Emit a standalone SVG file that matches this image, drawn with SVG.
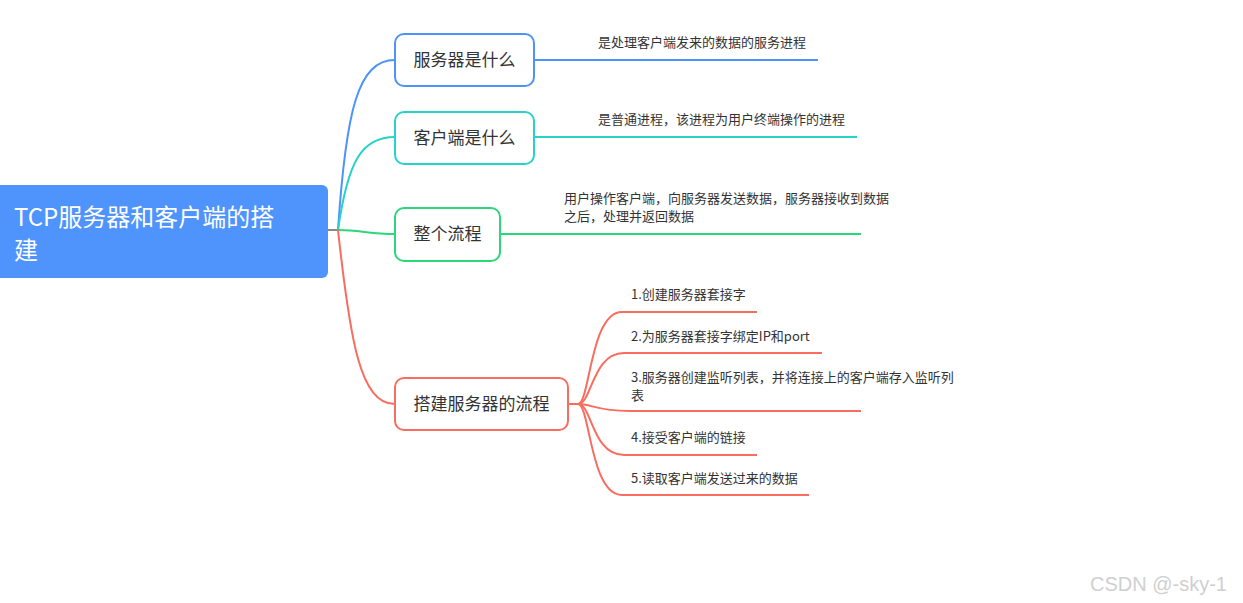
<svg xmlns="http://www.w3.org/2000/svg" width="1243" height="603" viewBox="0 0 1243 603">
<style>
.node{fill:#fff;stroke-width:2}
.nt{font-family:"Noto Sans CJK SC","Liberation Sans",sans-serif;font-size:17px;fill:#333;text-anchor:middle}
.lt{font-family:"Noto Sans CJK SC","Liberation Sans",sans-serif;font-size:13px;fill:#333}
.c{fill:none;stroke-width:2}
.b{stroke:#4d94fa}.t{stroke:#27d2cb}.g{stroke:#2cd67b}.r{stroke:#f86d5f}
</style>
<rect width="1243" height="603" fill="#fff"/>
<g id="connectors">
<path d="M328,230 H338" stroke="#888" stroke-width="2" fill="none"/>
<path class="c b" d="M338,230 C346,110 358,60 395,60"/>
<path class="c t" d="M338,230 C348,160 362,137 395,137"/>
<path class="c g" d="M338,230 C360,230 370,234 395,234"/>
<path class="c r" d="M338,230 C350,340 360,404 395,404"/>
<path class="c b" d="M534,60 H818"/>
<path class="c t" d="M534,137 H857"/>
<path class="c g" d="M500,234 H861"/>
<path class="c r" d="M568,404 H578 C590,404 590,312 622,312 H757"/>
<path class="c r" d="M578,404 C592,404 592,353 624,353 H822"/>
<path class="c r" d="M578,404 C592,404 596,411 630,411 H861"/>
<path class="c r" d="M578,404 C592,404 592,455 624,455 H757"/>
<path class="c r" d="M578,404 C590,404 590,495 622,495 H809"/>
</g>
<g id="root">
<rect x="-8" y="185" width="336" height="93" rx="6" fill="#4e94fc"/>
<text x="14" y="226" font-family="Noto Sans CJK SC,Liberation Sans,sans-serif" font-size="24" fill="#fff">TCP服务器和客户端的搭</text>
<text x="14" y="259" font-family="Noto Sans CJK SC,Liberation Sans,sans-serif" font-size="24" fill="#fff">建</text>
</g>
<g id="n1">
<rect class="node b" x="395" y="34" width="139" height="52" rx="9"/>
<text class="nt" x="464.5" y="66">服务器是什么</text>
<text class="lt" x="598" y="47">是处理客户端发来的数据的服务进程</text>
</g>
<g id="n2">
<rect class="node t" x="395" y="112" width="139" height="52" rx="9"/>
<text class="nt" x="464.5" y="144">客户端是什么</text>
<text class="lt" x="598" y="124">是普通进程，该进程为用户终端操作的进程</text>
</g>
<g id="n3">
<rect class="node g" x="395" y="208" width="105" height="53" rx="9"/>
<text class="nt" x="447.5" y="240">整个流程</text>
<text class="lt" x="564" y="203">用户操作客户端，向服务器发送数据，服务器接收到数据</text>
<text class="lt" x="564" y="221">之后，处理并返回数据</text>
</g>
<g id="n4">
<rect class="node r" x="395" y="378" width="173" height="52" rx="9"/>
<text class="nt" x="481.5" y="410">搭建服务器的流程</text>
</g>
<g id="s1"><text class="lt" x="631" y="299">1.创建服务器套接字</text></g>
<g id="s2"><text class="lt" x="631" y="341">2.为服务器套接字绑定IP和port</text></g>
<g id="s3"><text class="lt" x="631" y="382">3.服务器创建监听列表，并将连接上的客户端存入监听列</text><text class="lt" x="631" y="400">表</text></g>
<g id="s4"><text class="lt" x="631" y="442">4.接受客户端的链接</text></g>
<g id="s5"><text class="lt" x="631" y="483">5.读取客户端发送过来的数据</text></g>
<text x="1090" y="591" font-family="Liberation Sans,sans-serif" font-size="20" fill="#cfcfcf">CSDN @-sky-1</text>
</svg>
